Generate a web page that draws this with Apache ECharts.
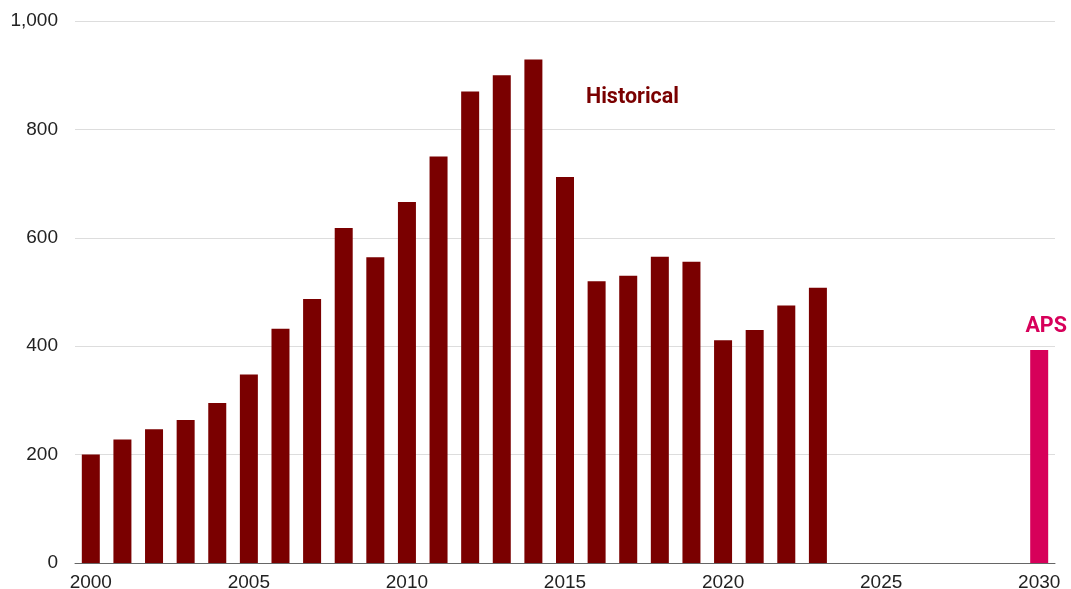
<!DOCTYPE html>
<html>
<head>
<meta charset="utf-8">
<script src="https://cdn.jsdelivr.net/npm/echarts@6/dist/echarts.min.js"></script>
<style>
html,body{margin:0;padding:0;background:#fff;}
#main{width:1071px;height:589px;}
</style>
</head>
<body>
<div id="main"></div>
<script>
var years = [];
for (var y = 2000; y <= 2030; y++) years.push(String(y));

var historical = [200, 228, 247, 264, 295, 348, 432, 487, 618, 564, 666, 750,
  870, 900, 929, 712, 520, 530, 565, 556, 411, 430, 475, 508];
var aps = [393];
var yTicks = [0, 200, 400, 600, 800, 1000];

var histData = years.map(function (yr, i) { return i < historical.length ? historical[i] : null; });
var apsData = years.map(function (yr) { return yr === '2030' ? aps[0] : null; });

var chart = echarts.init(document.getElementById('main'));
chart.setOption({
  animation: false,
  grid: { left: 75, right: 16, top: 21, bottom: 26, containLabel: false, outerBoundsMode: 'none' },
  xAxis: {
    type: 'category',
    data: years,
    axisLine: { lineStyle: { color: '#666', width: 1 } },
    axisTick: { show: false },
    axisLabel: {
      interval: 4,
      color: '#222',
      fontFamily: 'Liberation Sans, Arial, sans-serif',
      fontSize: 19,
      margin: 10
    }
  },
  yAxis: {
    type: 'value',
    min: yTicks[0],
    max: yTicks[yTicks.length - 1],
    interval: 200,
    axisLine: { show: false },
    axisTick: { show: false },
    splitLine: { lineStyle: { color: '#dddddd', width: 1 } },
    axisLabel: {
      color: '#222',
      fontFamily: 'Liberation Sans, Arial, sans-serif',
      fontSize: 19,
      margin: 17,
      formatter: function (v) { return v.toLocaleString('en-US'); }
    }
  },
  series: [
    {
      name: 'Historical',
      type: 'bar',
      data: histData,
      barWidth: 18,
      barGap: '-100%',
      itemStyle: { color: '#7a0000' }
    },
    {
      name: 'APS',
      type: 'bar',
      data: apsData,
      barWidth: 18,
      barGap: '-100%',
      itemStyle: { color: '#d7005a' },
      label: {
        show: true,
        position: 'top',
        distance: 12,
        offset: [7, 0],
        formatter: 'APS',
        color: '#d7005a',
        fontFamily: 'Roboto, sans-serif',
        fontWeight: 'bold',
        fontSize: 21.5
      }
    }
  ],
  graphic: [
    {
      type: 'text',
      left: 586,
      top: 87,
      style: {
        text: 'Historical',
        fill: '#7a0000',
        font: 'bold 21.5px Roboto, sans-serif'
      }
    }
  ]
});
</script>
</body>
</html>
